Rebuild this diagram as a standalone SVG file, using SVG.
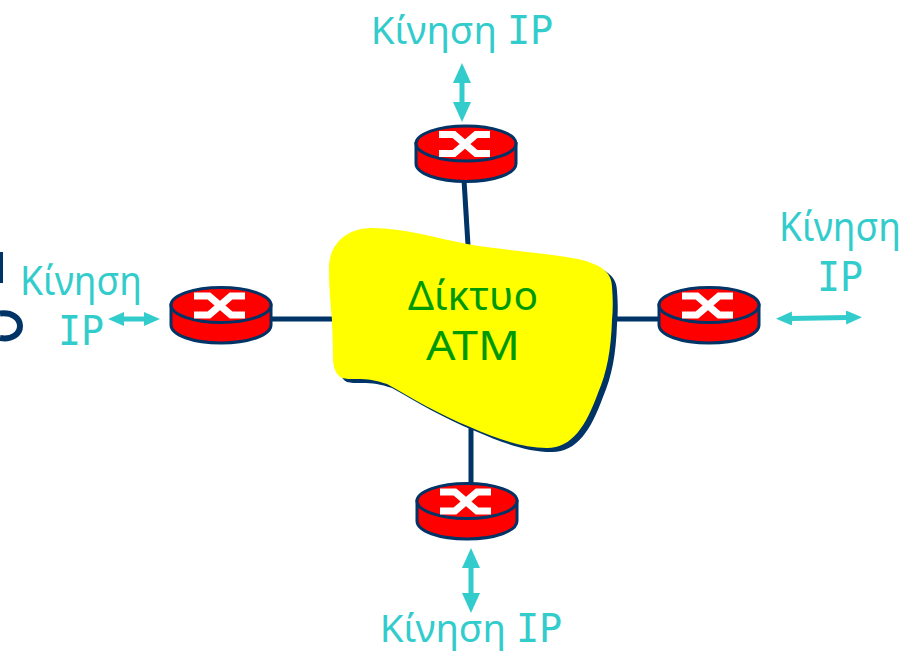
<svg xmlns="http://www.w3.org/2000/svg" width="910" height="652" viewBox="0 0 910 652">
<style>
.link{stroke:#003366;stroke-width:5;fill:none}
.flow{stroke:#33CCCC;stroke-width:5;fill:none}
.t{font-family:"Noto Sans","DejaVu Sans",sans-serif;fill:#33CCCC;font-size:40px;text-anchor:middle}
.w{font-size:38.500px}
.m{font-family:"DejaVu Sans Mono","Liberation Mono",monospace}
.n{font-family:"Noto Sans","DejaVu Sans",sans-serif;fill:#009900;font-size:40px;text-anchor:middle}
.rb{fill:#FF0000;stroke:#003366;stroke-width:3}
.rx{fill:none;stroke:#FFFFFF;stroke-width:7}
</style>
<defs>
<marker id="headS" viewBox="0 0 20 18" refX="2" refY="9" markerWidth="20" markerHeight="18" markerUnits="userSpaceOnUse" orient="auto-start-reverse"><path d="M20 9L0 0V18Z" fill="#33CCCC"/></marker>
<marker id="headM" viewBox="0 0 16 14" refX="2" refY="7" markerWidth="16" markerHeight="14" markerUnits="userSpaceOnUse" orient="auto-start-reverse"><path d="M16 7L0 0V14Z" fill="#33CCCC"/></marker>
<path id="blob" d="M329 270C328 245 346 228 372 228C405 228 435 238 467 244C500 250 540 252 578 259C600 264 612 272 612 287C613 300 613 310 612 320C611 350 607 372 598 393C586 426 572 448 547 448C522 448 498 439 470 427C440 415 410 397 387 384C375 380 368 379 357 379C350 379 346 379 342 378C336 375 333 368 333 357C333 340 332 330 332 320C330 300 329 285 329 270Z"/>
<g id="router">
<path class="rb" d="M-50 0V20C-50 30-28 38 0 38S50 30 50 20V0Z"/>
<ellipse class="rb" cx="0" cy="0" rx="50" ry="17.500"/>
<path class="rx" d="M-27 -9H-12L10 10H24M-27 10H-12L10 -9H24"/>
</g>
</defs>
<g id="connectors">
<path class="link" d="M464 180L468 245"/>
<path class="link" d="M272 319H334"/>
<path class="link" d="M612 319H660"/>
<path class="link" d="M471 425V485"/>
<path class="flow" d="M462 81V104" marker-start="url(#headS)" marker-end="url(#headS)"/>
<path class="flow" d="M471 566V595" marker-start="url(#headS)" marker-end="url(#headS)"/>
<path class="flow" d="M122 319H146" marker-start="url(#headM)" marker-end="url(#headM)"/>
<path class="flow" d="M790 318.500L848 317.500" marker-start="url(#headM)" marker-end="url(#headM)"/>
</g>
<g id="stray">
<path d="M1 252V283" stroke="#003366" stroke-width="4" fill="none"/>
<path d="M0 313.500C12 312 20 318 20 326S12 340 0 338" stroke="#003366" stroke-width="6" fill="none"/>
</g>
<g id="atm">
<use href="#blob" fill="#003366" x="5" y="4"/>
<use href="#blob" fill="#FFFF00"/>
<text class="n" x="473" y="310" textLength="130" lengthAdjust="spacingAndGlyphs">Δίκτυο</text>
<text class="n" x="473" y="360" textLength="94" lengthAdjust="spacingAndGlyphs">ATM</text>
</g>
<g id="router-top"><use href="#router" x="466" y="143.500"/></g>
<g id="router-left"><use href="#router" x="221" y="305"/></g>
<g id="router-right"><use href="#router" x="709" y="305"/></g>
<g id="router-bottom"><use href="#router" x="467" y="501"/></g>
<g id="labels">
<text class="t w" x="462" y="44">Κίνηση <tspan class="m">IP</tspan></text>
<text class="t w" x="471" y="642">Κίνηση <tspan class="m">IP</tspan></text>
<text class="t" x="81" y="295" textLength="122" lengthAdjust="spacingAndGlyphs">Κίνηση</text>
<text class="t m" x="81" y="345" textLength="46" lengthAdjust="spacingAndGlyphs">IP</text>
<text class="t" x="840" y="241" textLength="122" lengthAdjust="spacingAndGlyphs">Κίνηση</text>
<text class="t m" x="840" y="291" textLength="46" lengthAdjust="spacingAndGlyphs">IP</text>
</g>
</svg>
